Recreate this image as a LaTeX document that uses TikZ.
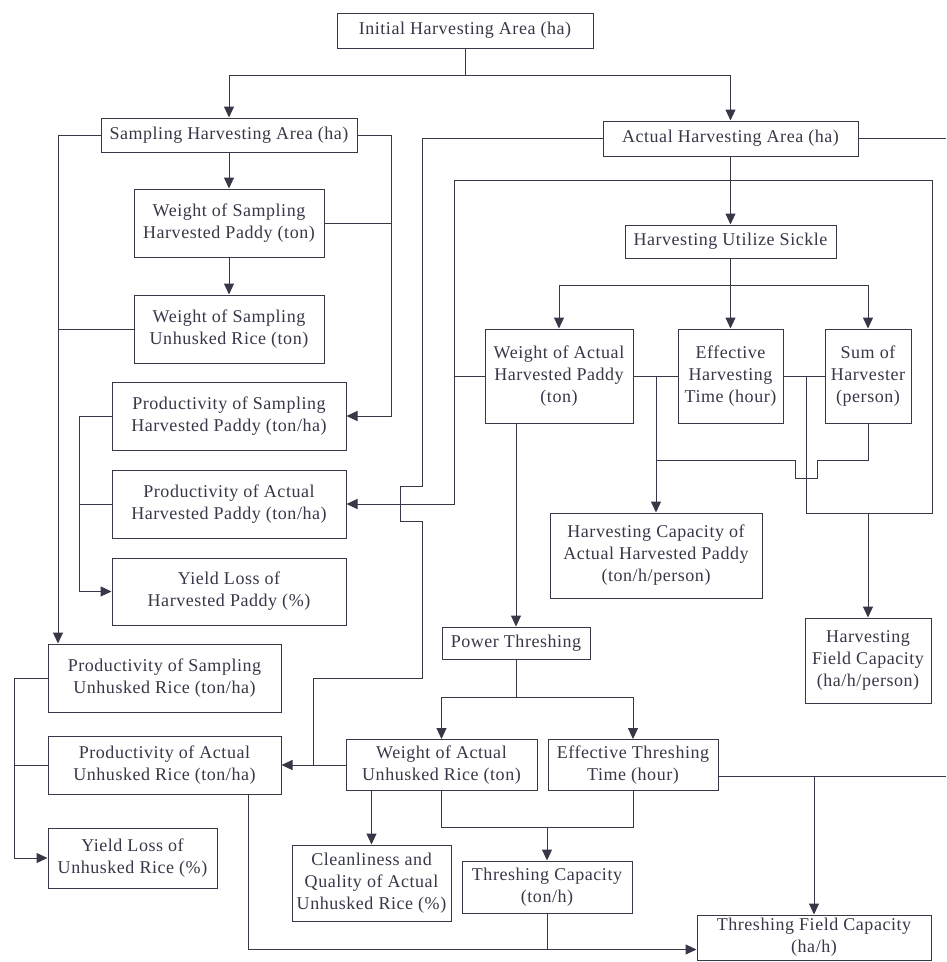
\documentclass[tikz,border=0pt]{standalone}
\usepackage{fontspec}
\setmainfont{Liberation Serif}[LetterSpace=3]
\usetikzlibrary{arrows.meta}
\definecolor{ink}{RGB}{55,55,72}
\tikzset{
  box/.style={draw=ink, line width=1pt, align=center, inner sep=2pt, text=ink,
    font=\fontsize{18}{22}\selectfont},
  arr/.style={-{Triangle[width=10pt,length=11pt]}},
}
\def\flowbox(#1)(#2,#3)(#4,#5)#6{\node[box, minimum width={#4-#2}, minimum height={#5-#3}] (#1) at ({(#2+#4)/2},{(#3+#5)/2}) {#6};}

\begin{document}
\begin{tikzpicture}[x=1pt, y=-1pt, line width=1pt, draw=ink]
			%%%%% START %%%%%
			\useasboundingbox (0,0) rectangle (946,962);
			
			% sampling side
			\flowbox(init)(337,13)(593,48){Initial Harvesting Area (ha)}
			\flowbox(samp)(101,118)(357,152){Sampling Harvesting Area (ha)}
			\flowbox(wshp)(134,189)(324,257){Weight of Sampling\\Harvested Paddy (ton)}
			\flowbox(wsur)(134,295)(324,363){Weight of Sampling\\Unhusked Rice (ton)}
			\flowbox(pshp)(112,382)(346,450){Productivity of Sampling\\Harvested Paddy (ton/ha)}
			\flowbox(pahp)(112,470)(346,538){Productivity of Actual\\Harvested Paddy (ton/ha)}
			\flowbox(ylhp)(112,558)(346,625){Yield Loss of\\Harvested Paddy (\%)}
			\flowbox(psur)(48,644)(281,712){Productivity of Sampling\\Unhusked Rice (ton/ha)}
			\flowbox(paur)(48,736)(281,794){Productivity of Actual\\Unhusked Rice (ton/ha)}
			\flowbox(ylur)(48,828)(217,888){Yield Loss of\\Unhusked Rice (\%)}
			
			% actual side
			\flowbox(act)(603,121)(858,156){Actual Harvesting Area (ha)}
			\flowbox(hus)(625,225)(836,258){Harvesting Utilize Sickle}
			\flowbox(wahp)(485,329)(633,423){Weight of Actual\\Harvested Paddy\\(ton)}
			\flowbox(eht)(678,329)(783,423){Effective\\Harvesting\\Time (hour)}
			\flowbox(soh)(825,329)(911,423){Sum of\\Harvester\\(person)}
			\flowbox(hcap)(550,513)(762,598){Harvesting Capacity of\\Actual Harvested Paddy\\(ton/h/person)}
			\flowbox(hfc)(805,618)(931,703){Harvesting\\Field Capacity\\(ha/h/person)}
			\flowbox(pt)(442,627)(590,659){Power Threshing}
			\flowbox(waur)(346,739.5)(537,790.5){Weight of Actual\\Unhusked Rice (ton)}
			\flowbox(ett)(548,739.5)(718,790.5){Effective Threshing\\Time (hour)}
			\flowbox(clean)(292,845)(451,921){Cleanliness and\\Quality of Actual\\Unhusked Rice (\%)}
			\flowbox(tcap)(462,861)(632,913){Threshing Capacity\\(ton/h)}
			\flowbox(tfc)(697,915)(931,960){Threshing Field Capacity\\(ha/h)}
			
			% helper lines
			\coordinate (tb) at (0,75);
			\coordinate (sl) at (58,0);
			\coordinate (sr) at (391,0);
			\coordinate (pl) at (79,0);
			\coordinate (ul) at (14,0);
			\coordinate (al) at (422,0);
			\coordinate (ad) at (313,0);
			\coordinate (fl) at (454,0);
			\coordinate (fr) at (932,0);
			\coordinate (ft) at (0,180);
			\coordinate (fb) at (0,513);
			\coordinate (hr) at (806,0);
			\coordinate (hh) at (806,460);
			\coordinate (hb) at (0,285);
			\coordinate (pb) at (0,697);
			\coordinate (tb2) at (0,827);
			\coordinate (pd) at (248,0);
			\coordinate (edge) at (946,0);
			\coordinate (te) at ([yshift=-11pt]ett.east);
			\coordinate (tl) at ([yshift=-12pt]tfc.west);
			
			\draw (init.south) -- (init.south |- tb);
			\draw[arr] (init.south |- tb) -| (samp.north);
			\draw[arr] (init.south |- tb) -| (act.north);
			
			\draw[arr] (samp.south) -- (wshp.north);
			\draw[arr] (wshp.south) -- (wsur.north);
			\draw[arr] (samp.west) -| (sl |- psur.north);
			\draw (wsur.west) -- (sl |- wsur.west);
			\draw[arr] (samp.east) -| (sr |- pshp.east) -- (pshp.east);
			\draw (wshp.east) -- (sr |- wshp.east);
			
			\draw[arr] (pshp.west) -| (pl |- ylhp.west) -- (ylhp.west);
			\draw (pahp.west) -- (pl |- pahp.west);
			\draw[arr] (psur.west) -| (ul |- ylur.west) -- (ylur.west);
			\draw (paur.west) -- (ul |- paur.west);
			
			% actual area frame
			\draw (fl |- ft) -- (fr |- ft);
			\draw[arr] (fl |- ft) -- (fl |- pahp.east) -- (pahp.east);
			\draw (wahp.west) -- (fl |- wahp.west);
			\draw[arr] (act.south) -- (hus.north);
			\draw (act.east) -- (edge |- act.east);
			\draw (fr |- ft) -- (fr |- fb) -| (hr |- eht.east);
			\draw (eht.east) -- (soh.west);
			\draw[arr] (hfc.north |- fb) -- (hfc.north);
			
			\draw (act.west) -| ([yshift=18pt]al |- pahp.east) -- ++(-22,0) -- ++(0,35) -- ++(22,0) -- (al |- psur.east) -| (ad |- waur.west);
			\draw[arr] (waur.west) -- (paur.east);
			
			% sickle
			\draw (hus.south) -- (hus.south |- hb);
			\draw[arr] (hus.south |- hb) -| (wahp.north);
			\draw[arr] (hus.south) -- (eht.north);
			\draw[arr] (hus.south |- hb) -| (soh.north);
			\draw (wahp.east) -- (eht.west);
			\draw[arr] (hcap.north |- wahp.east) -- (hcap.north);
			\draw (soh.south) |- ([xshift=11pt]hh) -- ++(0,18) -- ++(-22,0) -- ++(0,-18) -- (hcap.north |- hh);
			
			% threshing
			\draw[arr] (pt.north |- wahp.south) -- (pt.north);
			\draw (pt.south) -- (pt.south |- pb);
			\draw[arr] (pt.south |- pb) -| (waur.north);
			\draw[arr] (pt.south |- pb) -| (ett.north);
			\draw (waur.south) |- (ett.south |- tb2) -- (ett.south);
			\draw[arr] (tcap.north |- tb2) -- (tcap.north);
			\draw[arr] (clean.north |- waur.south) -- (clean.north);
			
			\draw (te) -- (edge |- te);
			\draw[arr] (tfc.north |- te) -- (tfc.north);
			\draw[arr] (pd |- paur.south) |- (tl);
			\draw (tcap.south) -- (tcap.south |- tl);
			
			%%%%% END %%%%%
\end{tikzpicture}
\end{document}
